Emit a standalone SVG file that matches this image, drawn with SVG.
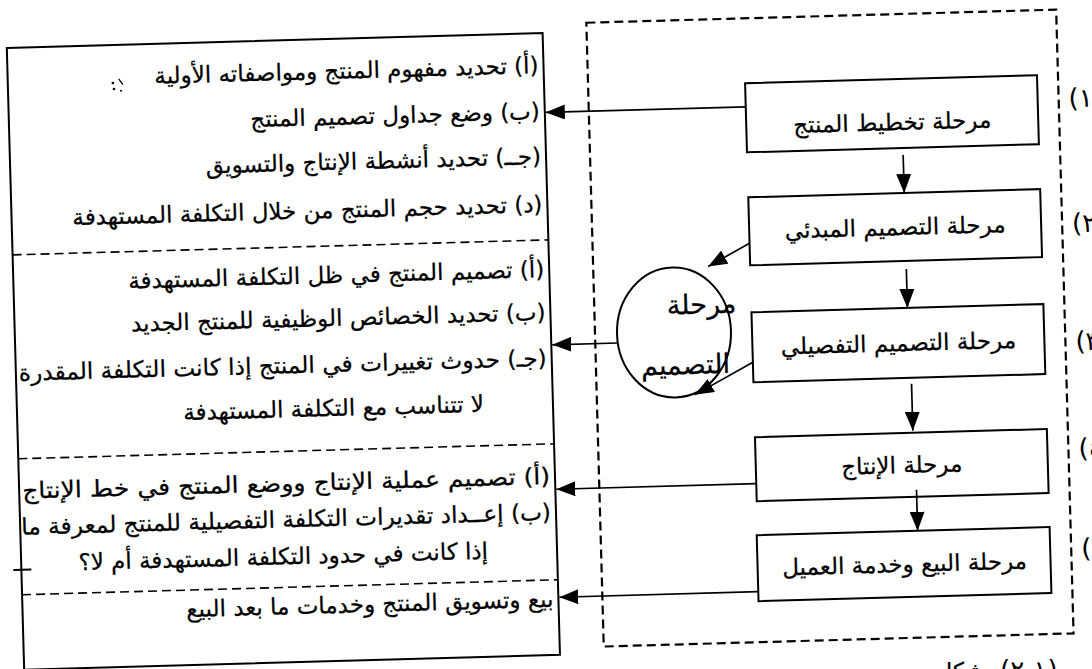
<svg xmlns="http://www.w3.org/2000/svg" width="1092" height="669" viewBox="0 0 1092 669">
  <defs>
    <style>
      .frame { fill: none; stroke: #000; stroke-width: 2; }
      .dash-frame { fill: none; stroke: #000; stroke-width: 2.2; stroke-dasharray: 9 5; }
      .divider { fill: none; stroke: #000; stroke-width: 1.6; stroke-dasharray: 9 5; }
      .stage { fill: #fff; stroke: #000; stroke-width: 2; }
      .link { fill: none; stroke: #000; stroke-width: 1.7; marker-end: url(#ah); }
      .ar { font-family: "DejaVu Sans", sans-serif; fill: #000; stroke: #000; stroke-width: 0.25; direction: rtl; }
      .item { font-size: 23px; text-anchor: start; }
      .label { font-size: 23px; text-anchor: middle; }
      .big { font-size: 27px; text-anchor: start; }
      .num { font-family: "DejaVu Sans", sans-serif; font-size: 26px; fill: #000; direction: ltr; unicode-bidi: bidi-override; }
    </style>
    <marker id="ah" markerUnits="userSpaceOnUse" markerWidth="19" markerHeight="15" refX="19" refY="7.5" orient="auto">
      <path d="M0,0 L19,7.5 L0,15 Z" fill="#000"/>
    </marker>
  </defs>
  <rect width="1092" height="669" fill="#fff"/>

  <g transform="rotate(-1.6 546 334)">
    <!-- activities panel on the left -->
    <g id="activities">
      <path class="frame" d="M15,33 H551 V655 H15 Z M15,655 V690"/>
      <line class="frame" x1="7" y1="555" x2="25" y2="555" stroke-width="1.5"/>
      <line class="divider" x1="15" y1="240" x2="551" y2="240"/>
      <line class="divider" x1="15" y1="444" x2="551" y2="444"/>
      <line class="divider" x1="15" y1="580" x2="551" y2="580"/>
      <!-- small specks beside the first line -->
      <g fill="#000">
        <circle cx="120" cy="71" r="1.3"/>
        <circle cx="121" cy="77" r="1.3"/>
        <path d="M126,67 L130,73" stroke="#000" stroke-width="1.3"/>
        <circle cx="128" cy="79" r="1"/>
      </g>
      <text class="ar item" x="546" y="73">(أ) تحديد مفهوم المنتج ومواصفاته الأولية</text>
      <text class="ar item" x="546" y="119">(ب) وضع جداول تصميم المنتج</text>
      <text class="ar item" x="546" y="164">(جــ) تحديد أنشطة الإنتاج والتسويق</text>
      <text class="ar item" x="546" y="212">(د) تحديد حجم المنتج من خلال التكلفة المستهدفة</text>
      <text class="ar item" x="546" y="277">(أ) تصميم المنتج في ظل التكلفة المستهدفة</text>
      <text class="ar item" x="546" y="320">(ب) تحديد الخصائص الوظيفية للمنتج الجديد</text>
      <text class="ar item" x="546" y="366" textLength="528" lengthAdjust="spacingAndGlyphs">(جـ) حدوث تغييرات في المنتج إذا كانت التكلفة المقدرة</text>
      <text class="ar item" x="482" y="410">لا تتناسب مع التكلفة المستهدفة</text>
      <text class="ar item" x="546" y="484" textLength="528" lengthAdjust="spacingAndGlyphs">(أ) تصميم عملية الإنتاج ووضع المنتج في خط الإنتاج</text>
      <text class="ar item" x="546" y="520" textLength="530" lengthAdjust="spacingAndGlyphs">(ب) إعــداد تقديرات التكلفة التفصيلية للمنتج لمعرفة ما</text>
      <text class="ar item" x="482" y="557">إذا كانت في حدود التكلفة المستهدفة أم لا؟</text>
      <text class="ar item" x="546" y="607">بيع وتسويق المنتج وخدمات ما بعد البيع</text>
    </g>

    <!-- dashed frame around the stages -->
    <g id="stages-frame">
      <rect class="dash-frame" x="595" y="24" width="470" height="624"/>
    </g>

    <g id="stage-1">
      <rect class="stage" x="752" y="89" width="292" height="69"/>
      <text class="ar label" x="898" y="140">مرحلة تخطيط المنتج</text>
    </g>
    <g id="stage-2">
      <rect class="stage" x="752" y="203" width="292" height="68"/>
      <text class="ar label" x="898" y="245">مرحلة التصميم المبدئي</text>
    </g>
    <g id="stage-3">
      <rect class="stage" x="752" y="318" width="292" height="70"/>
      <text class="ar label" x="898" y="361">مرحلة التصميم التفصيلي</text>
    </g>
    <g id="stage-4">
      <rect class="stage" x="752" y="443" width="292" height="64"/>
      <text class="ar label" x="898" y="483">مرحلة الإنتاج</text>
    </g>
    <g id="stage-5">
      <rect class="stage" x="751" y="541" width="293" height="66"/>
      <text class="ar label" x="898" y="582">مرحلة البيع وخدمة العميل</text>
    </g>

    <!-- design stage bubble -->
    <g id="design-stage">
      <ellipse cx="674" cy="336" rx="57" ry="65" fill="none" stroke="#000" stroke-width="2"/>
      <text class="ar big" x="737" y="318">مرحلة</text>
      <text class="ar big" x="729" y="378">التصميم</text>
    </g>

    <g id="connectors">
      <line class="link" x1="752" y1="112.5" x2="552" y2="112.5"/>
      <line class="link" x1="908" y1="165" x2="908" y2="203"/>
      <line class="link" x1="908" y1="279" x2="908" y2="318"/>
      <line class="link" x1="910" y1="394" x2="910" y2="441"/>
      <line class="link" x1="912" y1="500" x2="912" y2="541"/>
      <line class="link" x1="752" y1="249" x2="710" y2="271"/>
      <line class="link" x1="752" y1="368" x2="693" y2="399"/>
      <line class="link" x1="617" y1="345" x2="552" y2="345"/>
      <line class="link" x1="752" y1="489.5" x2="552" y2="489.5"/>
      <line class="link" x1="751" y1="597.5" x2="552" y2="597.5"/>
    </g>

    <g id="stage-numbers">
      <text class="num" x="1075" y="122">(١)</text>
      <text class="num" x="1075" y="247">(٢)</text>
      <text class="num" x="1075" y="365">(٣)</text>
      <text class="num" x="1075" y="472">(٤)</text>
      <text class="num" x="1075" y="572">(٥)</text>
    </g>
  </g>

  <g id="caption">
    <text class="ar" font-size="23" x="985" y="679" text-anchor="start">شكل</text>
    <text class="num" font-size="23" x="1000" y="679">(٢-١)</text>
  </g>
</svg>
